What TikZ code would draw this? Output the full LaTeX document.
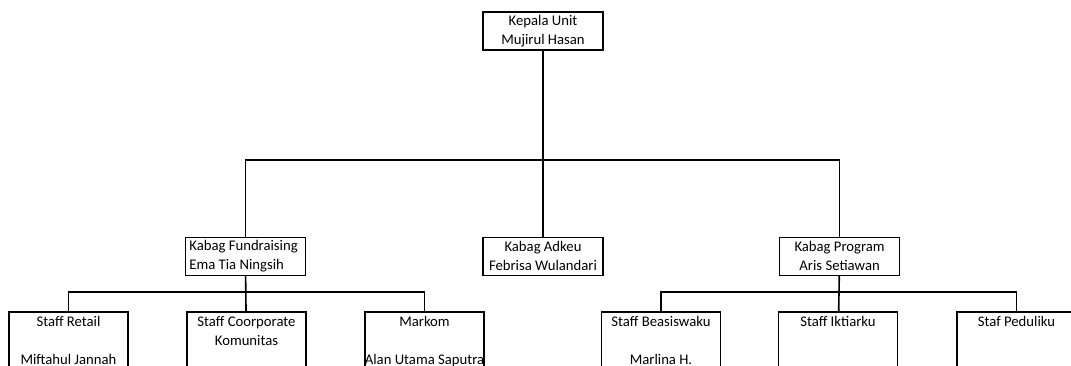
\documentclass[tikz,border=0pt]{standalone}
\usepackage{fontspec}
\setmainfont{Carlito}
\usetikzlibrary{positioning}

\begin{document}
\begin{tikzpicture}[
  x=1pt, y=-1pt,
  box/.style={rectangle,draw,line width=1.6pt,minimum width=120pt,minimum height=38pt,inner xsep=1pt,inner ysep=2pt,align=center,font=\fontsize{14.7}{19}\selectfont},
  staffbox/.style={box,anchor=north,minimum width=119pt,inner ysep=4.5pt},
  link/.style={line width=1.6pt}
]
\clip (0,0) rectangle (1071,365);

% Kepala unit
\node[box,anchor=north] (kepala) at (543,11) {Kepala Unit\\Mujirul Hasan};

% Kabag
\node[box,below=186pt of kepala] (adkeu) {Kabag Adkeu\\Febrisa Wulandari};
\node[box,left=176pt of adkeu,align=flush left,text width=112pt,inner xsep=4pt] (fundraising) {Kabag Fundraising\\Ema Tia Ningsih};
\node[box,right=175pt of adkeu] (program) {Kabag Program\\Aris Setiawan};

% Staff fundraising
\node[staffbox] (retail) at (68.5,311) {Staff Retail\\\strut\\Miftahul Jannah\\\strut};
\node[staffbox] (coorporate) at (246.5,311) {Staff Coorporate\\Komunitas\\\strut\\\strut};
\node[staffbox] (markom) at (424.5,311) {Markom\\\strut\\\makebox[115pt]{Alan Utama Saputra}\\\strut};

% Staff program
\node[staffbox] (beasiswaku) at (661,311) {Staff Beasiswaku\\\strut\\Marlina H.\\\strut};
\node[staffbox] (iktiarku) at (838,311) {Staff Iktiarku\\\strut\\\strut\\\strut};
\node[staffbox] (peduliku) at (1016.5,311) {Staf Peduliku\\\strut\\\strut\\\strut};

% Lines
\coordinate (bus1) at (543,160);
\coordinate (bus2) at (247,292);
\coordinate (bus3) at (838,292);
\draw[link] (kepala) -- (adkeu);
\draw[link] (fundraising.north) |- (bus1) -| (program.north);
\draw[link] (fundraising) -- (coorporate);
\draw[link] (retail.north) |- (bus2) -| (markom.north);
\draw[link] (program) -- (iktiarku);
\draw[link] (beasiswaku.north) |- (bus3) -| (peduliku.north);

\end{tikzpicture}
\end{document}
